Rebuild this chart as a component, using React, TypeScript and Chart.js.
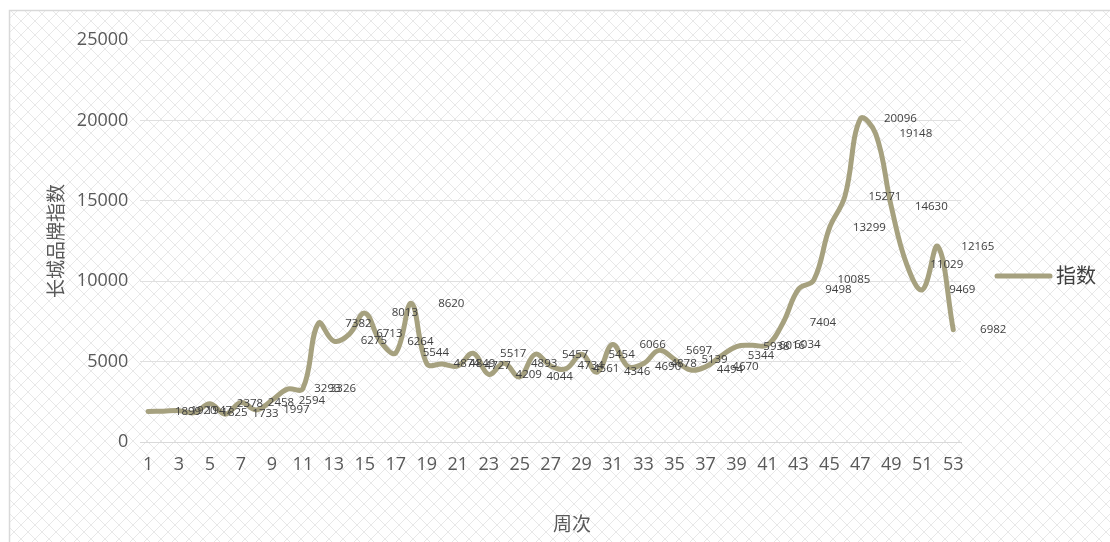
import React, { useEffect, useRef } from "react";
import { Chart, registerables } from "chart.js";

Chart.register(...registerables);

const weeks: string[] = Array.from({ length: 53 }, (_, i) => String(i + 1));
const indexValues: number[] = [
  1899, 1920, 1947, 1825, 2378, 1733, 2458, 1997, 2594, 3293,
  3326, 7382, 6275, 6713, 8013, 6264, 5544, 8620, 4874, 4849,
  4727, 5517, 4209, 4893, 4044, 5457, 4734, 4561, 5454, 4346,
  6066, 4690, 4878, 5697, 5139, 4494, 4670, 5344, 5938, 6016,
  6034, 7404, 9498, 10085, 13299, 15271, 20096, 19148, 14630, 11029,
  9469, 12165, 6982,
];
const seriesName = "指数";
const yTitle = "长城品牌指数";
const xTitle = "周次";

const FONT = '"Open Sans", "Noto Sans CJK SC", sans-serif';
const LINE_COLOR = "#a6a17f";
const TEXT_COLOR = "#595959";

export default function App() {
  const ref = useRef<HTMLCanvasElement | null>(null);

  useEffect(() => {
    const canvas = ref.current;
    if (!canvas) return;

    const decor = {
      id: "decor",
      beforeDraw(chart: any) {
        const ctx = chart.ctx;
        const w = chart.width;
        const h = chart.height;
        ctx.save();
        ctx.fillStyle = "#ffffff";
        ctx.fillRect(0, 0, w, h);
        const tile = document.createElement("canvas");
        tile.width = 14;
        tile.height = 14;
        const t = tile.getContext("2d")!;
        t.strokeStyle = "#e8e8e8";
        t.lineWidth = 1;
        t.beginPath();
        t.moveTo(0, 0);
        t.lineTo(14, 14);
        t.moveTo(0, 14);
        t.lineTo(14, 0);
        t.stroke();
        const pat = ctx.createPattern(tile, "repeat");
        ctx.fillStyle = pat;
        ctx.fillRect(10, 11, w, h);
        ctx.strokeStyle = "#d9d9d9";
        ctx.lineWidth = 1.5;
        ctx.strokeRect(9.5, 10.5, w + 20, h + 20);
        ctx.restore();
      },
      afterDatasetsDraw(chart: any) {
        const ctx = chart.ctx;
        const meta = chart.getDatasetMeta(0);
        const data = chart.data.datasets[0].data as number[];
        ctx.save();
        ctx.font = `11.5px ${FONT}`;
        ctx.fillStyle = "#404040";
        ctx.textAlign = "center";
        ctx.textBaseline = "middle";
        meta.data.forEach((pt: any, i: number) => {
          ctx.fillText(String(data[i]), pt.x + 40, pt.y);
        });
        // axis titles
        ctx.fillStyle = TEXT_COLOR;
        ctx.font = `19px ${FONT}`;
        ctx.fillText(xTitle, 572, 526);
        ctx.save();
        ctx.translate(58, (chart.chartArea.top + chart.chartArea.bottom) / 2);
        ctx.rotate(-Math.PI / 2);
        ctx.fillText(yTitle, 0, 0);
        ctx.restore();
        // legend
        ctx.strokeStyle = LINE_COLOR;
        ctx.lineWidth = 5;
        ctx.lineCap = "round";
        ctx.beginPath();
        ctx.moveTo(997, 276);
        ctx.lineTo(1050, 276);
        ctx.stroke();
        ctx.fillStyle = "#404040";
        ctx.font = `20px ${FONT}`;
        ctx.textAlign = "left";
        ctx.fillText(seriesName, 1056, 277);
        ctx.restore();
      },
    };

    const chart = new Chart(canvas, {
      type: "line",
      data: {
        labels: weeks,
        datasets: [
          {
            label: seriesName,
            data: indexValues,
            borderColor: LINE_COLOR,
            backgroundColor: LINE_COLOR,
            borderWidth: 5,
            pointRadius: 0,
            tension: 0.4,
            borderCapStyle: "round",
            borderJoinStyle: "round",
            fill: false,
          },
        ],
      },
      options: {
        responsive: false,
        animation: false,
        devicePixelRatio: 1,
        layout: { padding: { left: 0, right: 149, top: 40, bottom: 0 } },
        plugins: {
          legend: { display: false },
          tooltip: { enabled: false },
        },
        scales: {
          x: {
            type: "category",
            offset: true,
            grid: { display: false, drawTicks: false },
            border: { display: true, color: "#d9d9d9", width: 1 },
            ticks: {
              autoSkip: false,
              maxRotation: 0,
              minRotation: 0,
              padding: 12,
              color: TEXT_COLOR,
              font: { family: FONT, size: 18 },
              callback: (_v: any, i: number) => (i % 2 === 0 ? weeks[i] : ""),
            },
            afterFit: (s: any) => {
              s.height = 100;
            },
          },
          y: {
            min: 0,
            max: 25000,
            grid: { color: "#e0e0e0", drawTicks: false, lineWidth: 1 },
            border: { display: false },
            ticks: {
              stepSize: 5000,
              padding: 12,
              color: TEXT_COLOR,
              font: { family: FONT, size: 18 },
              callback: (v: any) => String(v),
            },
            afterFit: (s: any) => {
              s.width = 140.3;
            },
          },
        },
      },
      plugins: [decor],
    });

    return () => chart.destroy();
  }, []);

  return (
    <div style={{ position: "absolute", left: 0, top: 0, width: 1110, height: 542 }}>
      <canvas ref={ref} width={1110} height={542} style={{ display: "block" }} />
    </div>
  );
}
